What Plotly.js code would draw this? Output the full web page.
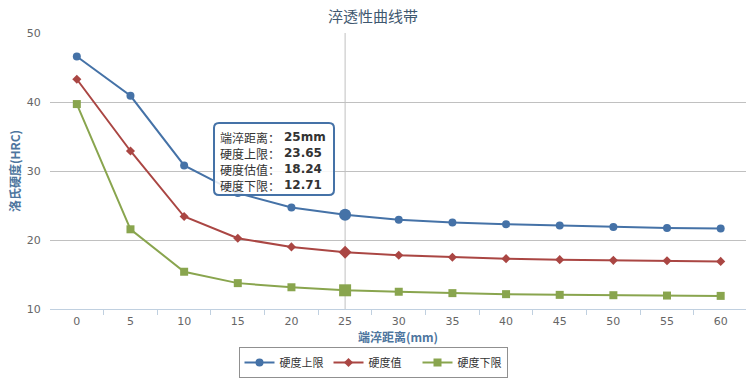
<!DOCTYPE html>
<html><head><meta charset="utf-8">
<script src="https://cdn.plot.ly/plotly-3.0.1.min.js"></script>
<style>html,body{margin:0;padding:0;background:#fff;}#c{width:746px;height:379px;}</style>
</head><body><div id="c"></div>
<script>
const distances = [0, 5, 10, 15, 20, 25, 30, 35, 40, 45, 50, 55, 60];
const upperLimit = [46.6, 40.9, 30.8, 26.8, 24.7, 23.65, 22.95, 22.55, 22.3, 22.1, 21.9, 21.75, 21.65];
const estimate   = [43.3, 32.9, 23.4, 20.25, 19.0, 18.24, 17.8, 17.5, 17.3, 17.15, 17.05, 17.0, 16.9];
const lowerLimit = [39.7, 21.55, 15.4, 13.75, 13.15, 12.71, 12.5, 12.3, 12.15, 12.05, 12.0, 11.95, 11.9];
const seriesNames = ['硬度上限', '硬度值', '硬度下限'];
const seriesColors = ['#4572A7', '#AA4643', '#89A54E'];
const seriesSymbols = ['circle', 'diamond', 'square'];
const xTicks = [0, 5, 10, 15, 20, 25, 30, 35, 40, 45, 50, 55, 60];
const yTicks = [10, 20, 30, 40, 50];
const hoverIndex = 5;
const tipLabels = ['端淬距离', '硬度上限', '硬度估值', '硬度下限'];

const allSeries = [upperLimit, estimate, lowerLimit];
const traces = [];
allSeries.forEach((ys, i) => {
  traces.push({
    type: 'scatter', mode: 'lines+markers', name: seriesNames[i],
    x: distances, y: ys,
    line: {color: seriesColors[i], width: 2},
    marker: {color: seriesColors[i], symbol: seriesSymbols[i], size: i === 1 ? 7 : 8},
    hoverinfo: 'skip'
  });
});
allSeries.forEach((ys, i) => {
  traces.push({
    type: 'scatter', mode: 'markers', showlegend: false,
    x: [distances[hoverIndex]], y: [ys[hoverIndex]],
    marker: {color: seriesColors[i], symbol: seriesSymbols[i], size: i === 1 ? 10 : 12},
    hoverinfo: 'skip'
  });
});

const minorTicks = xTicks.slice(0, -1).map(v => v + 2.5);

const W = 696, H = 276, T = 33, L = 50;
const px2x = p => (p - L) / W;
const py2y = p => (T + H - p) / H;
const bx0 = px2x(214), bx1 = px2x(334);
const by1 = py2y(123), by0 = py2y(195);
const rx = 5 / W, ry = 5 / H;
const boxPath = `M ${bx0+rx},${by1} L ${bx1-rx},${by1} Q ${bx1},${by1} ${bx1},${by1-ry} L ${bx1},${by0+ry} Q ${bx1},${by0} ${bx1-rx},${by0} L ${bx0+rx},${by0} Q ${bx0},${by0} ${bx0},${by0+ry} L ${bx0},${by1-ry} Q ${bx0},${by1} ${bx0+rx},${by1} Z`;

const tipValues = [distances[hoverIndex] + 'mm', upperLimit[hoverIndex].toFixed(2), estimate[hoverIndex].toFixed(2), lowerLimit[hoverIndex].toFixed(2)];
const tipAnnotations = [];
tipLabels.forEach((l, i) => {
  const yc = py2y(137 + i * 16);
  tipAnnotations.push({xref: 'paper', yref: 'paper', x: px2x(218), y: yc, xanchor: 'left', yanchor: 'middle',
    showarrow: false, text: l + '：', font: {family: '"Noto Sans CJK SC", sans-serif', size: 12, color: '#333'}});
  tipAnnotations.push({xref: 'paper', yref: 'paper', x: px2x(282), y: yc, xanchor: 'left', yanchor: 'middle',
    showarrow: false, text: '<b>' + tipValues[i] + '</b>', font: {family: '"DejaVu Sans", sans-serif', size: 12, color: '#333'}});
});

const layout = {
  width: 746, height: 379,
  margin: {l: L, r: 0, t: T, b: 379 - T - H},
  paper_bgcolor: '#fff', plot_bgcolor: '#fff',
  font: {family: '"DejaVu Sans", "Noto Sans CJK SC", sans-serif', color: '#666', size: 11},
  title: {text: '淬透性曲线带', x: 0.5, xref: 'container', y: 1 - 17/379, yref: 'container', yanchor: 'middle',
    font: {family: '"Noto Sans CJK SC", sans-serif', size: 15, color: '#3E576F'}},
  xaxis: {
    range: [-2.5, 62.36], tickvals: xTicks, ticktext: xTicks.map(String),
    ticks: 'outside', ticklen: 2, tickcolor: 'rgba(0,0,0,0)',
    showgrid: false, zeroline: false,
    showline: true, linecolor: '#C0D0E0', linewidth: 1,
    minor: {tickvals: minorTicks, ticks: 'outside', ticklen: 5, tickcolor: '#C0D0E0', showgrid: false},
    tickfont: {size: 11, color: '#666'},
    title: {text: '<b>端淬距离(mm)</b>', standoff: 4, font: {family: '"Noto Sans CJK SC", sans-serif', size: 12, color: '#4d759e'}}
  },
  yaxis: {
    range: [10, 50], tickvals: yTicks, showgrid: true, gridcolor: '#C0C0C0', gridwidth: 1,
    zeroline: false, showline: false,
    ticks: 'outside', ticklen: 6, tickcolor: 'rgba(0,0,0,0)',
    tickfont: {size: 11, color: '#666'},
    title: {text: '<b>洛氏硬度(HRC)</b>', standoff: 3, font: {family: '"Noto Sans CJK SC", sans-serif', size: 12, color: '#4d759e'}}
  },
  showlegend: true,
  legend: {
    orientation: 'h', xref: 'container', yref: 'container', x: 0.5, xanchor: 'center',
    y: 1 / 379, yanchor: 'bottom',
    bordercolor: '#909090', borderwidth: 1, bgcolor: '#fff',
    font: {family: '"Noto Sans CJK SC", sans-serif', size: 11, color: '#333'},
    itemwidth: 30, tracegroupgap: 0, entrywidth: 44, entrywidthmode: 'pixels'
  },
  shapes: [
    {type: 'line', xref: 'x', yref: 'paper', x0: distances[hoverIndex], x1: distances[hoverIndex], y0: 0, y1: 1,
      line: {color: '#C0C0C0', width: 1}, layer: 'below'},
    {type: 'path', xref: 'paper', yref: 'paper', path: boxPath,
      fillcolor: 'rgba(255,255,255,0.85)', line: {color: '#4572A7', width: 2}, layer: 'above'}
  ],
  annotations: tipAnnotations
};

Plotly.newPlot('c', traces, layout, {displayModeBar: false, staticPlot: true});
</script>
</body></html>
